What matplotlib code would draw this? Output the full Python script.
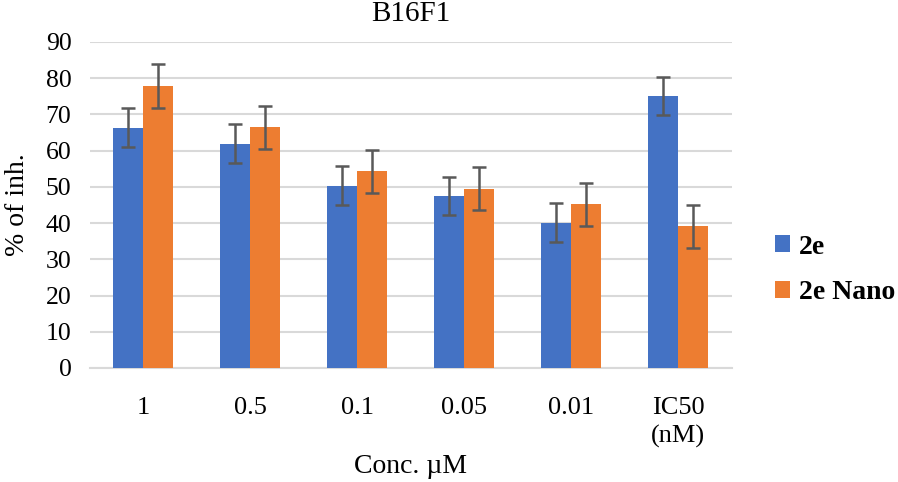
import numpy as np
import matplotlib.pyplot as plt
from matplotlib import rcParams

rcParams.update({'font.family': 'Liberation Serif', 'font.size': 19})

categories = ['1', '0.5', '0.1', '0.05', '0.01', 'IC50\n(nM)']
vals_2e = [66.3, 61.9, 50.3, 47.5, 40.1, 75.1]
err_2e = [5.4, 5.4, 5.4, 5.3, 5.4, 5.3]
vals_nano = [77.9, 66.4, 54.3, 49.5, 45.2, 39.1]
err_nano = [6.0, 6.0, 6.0, 6.0, 5.9, 5.9]

BLUE = '#4472C4'
ORANGE = '#ED7D31'
ERRC = '#595959'

fig = plt.figure(figsize=(8.98, 4.82), dpi=100)
ax = fig.add_axes([89.5 / 898, 1 - 368 / 482, 642 / 898, 326 / 482])

x = np.arange(len(categories))
w = 0.285
ekw = dict(ecolor=ERRC, elinewidth=1.8, capsize=5, capthick=1.8)
ax.bar(x - w / 2, vals_2e, w, color=BLUE, yerr=err_2e, error_kw=ekw, label='2e', zorder=3)
ax.bar(x + w / 2, vals_nano, w, color=ORANGE, yerr=err_nano, error_kw=ekw, label='2e Nano', zorder=3)

ax.set_xlim(-0.5, len(categories) - 0.5)
ax.set_ylim(0, 90)
ax.set_yticks(np.arange(0, 91, 10))
ax.set_xticks(x)
ax.set_xticklabels(categories, fontsize=19, linespacing=1.35)
ax.tick_params(length=0)
ax.tick_params(axis='x', pad=21)
ax.tick_params(axis='y', pad=13, labelsize=18.5)
ax.grid(axis='y', color='#D9D9D9', lw=1.5, zorder=0)
for s in ['top', 'right', 'left']:
    ax.spines[s].set_visible(False)
ax.spines['bottom'].set_color('#D9D9D9')
ax.spines['bottom'].set_linewidth(1.5)

ax.set_title('B16F1', fontsize=21, pad=15)
ax.set_xlabel('Conc. µM', fontsize=20, labelpad=4)
ax.set_ylabel('% of inh.', fontsize=20, labelpad=11)

leg = fig.legend(loc='center left', bbox_to_anchor=(775 / 898, 1 - 270 / 482), frameon=False,
                 prop={'weight': 'bold', 'size': 20}, handlelength=0.55, handleheight=0.55,
                 handletextpad=0.3, labelspacing=0.75, borderpad=0, borderaxespad=0)

fig.savefig('out.png', dpi=100)
